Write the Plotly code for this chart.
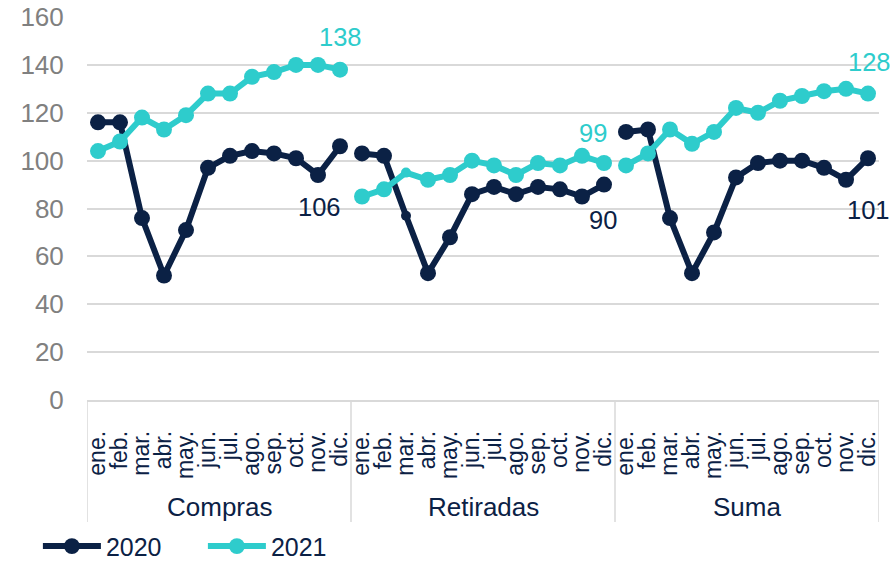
import plotly.graph_objects as go

months = ["ene.", "feb.", "mar.", "abr.", "may.", "jun.", "jul.", "ago.", "sep.", "oct.", "nov.", "dic."]
groups = ["Compras", "Retiradas", "Suma"]

compras_2020 = [116, 116, 76, 52, 71, 97, 102, 104, 103, 101, 94, 106]
retiradas_2020 = [103, 102, 77, 53, 68, 86, 89, 86, 89, 88, 85, 90]
suma_2020 = [112, 113, 76, 53, 70, 93, 99, 100, 100, 97, 92, 101]

compras_2021 = [104, 108, 118, 113, 119, 128, 128, 135, 137, 140, 140, 138]
retiradas_2021 = [85, 88, 95, 92, 94, 100, 98, 94, 99, 98, 102, 99]
suma_2021 = [98, 103, 113, 107, 112, 122, 120, 125, 127, 129, 130, 128]

series = {
    "2020": [compras_2020, retiradas_2020, suma_2020],
    "2021": [compras_2021, retiradas_2021, suma_2021],
}
colors = {"2020": "#0b2145", "2021": "#2ecccc"}
FONT = "Liberation Sans, Arial, sans-serif"
NAVY = "#0b2145"

fig = go.Figure()
n = len(months)
for name, vals in series.items():
    xs, ys, sizes = [], [], []
    for g, gv in enumerate(vals):
        for m, v in enumerate(gv):
            xs.append(g * n + m)
            ys.append(v)
            sizes.append(10 if (g == 1 and m == 2) else 16)
        xs.append(None)
        ys.append(None)
        sizes.append(16)
    fig.add_trace(go.Scatter(
        x=xs, y=ys, name=name, mode="lines+markers",
        line=dict(color=colors[name], width=6),
        marker=dict(color=colors[name], size=sizes, opacity=1, line=dict(width=0)),
        connectgaps=False,
    ))

# data labels for last month of each group
offsets = {
    ("2020", 0): (-21, -61), ("2020", 1): (-1, -35), ("2020", 2): (0, -52),
    ("2021", 0): (0, 33), ("2021", 1): (-11, 30), ("2021", 2): (1, 32),
}
for name, vals in series.items():
    for g, gv in enumerate(vals):
        dx, dy = offsets[(name, g)]
        fig.add_annotation(
            x=g * n + n - 1, y=gv[-1], text=f"{gv[-1]:.0f}", showarrow=False,
            xshift=dx, yshift=dy,
            font=dict(family=FONT, size=25.5, color=colors[name]),
        )

# group labels and dividers
plot_h = 383
for g, grp in enumerate(groups):
    fig.add_annotation(
        x=g * n + (n - 1) / 2, y=-(107 / plot_h), yref="paper", text=grp,
        showarrow=False, yanchor="middle",
        font=dict(family=FONT, size=26, color=NAVY),
    )
for b in range(len(groups) + 1):
    fig.add_shape(
        type="line", xref="x", yref="paper",
        x0=b * n - 0.5, x1=b * n - 0.5, y0=0, y1=-(122 / plot_h),
        line=dict(color="#d9d9d9", width=1.5),
    )

tickvals = list(range(n * len(groups)))
ticktext = months * len(groups)

fig.update_layout(
    width=896, height=562,
    margin=dict(l=87, r=17, t=17, b=162, autoexpand=False),
    paper_bgcolor="white", plot_bgcolor="white",
    font=dict(family=FONT, color=NAVY),
    showlegend=True,
    legend=dict(
        orientation="h", x=-0.062, xanchor="left", y=-0.382, yanchor="middle",
        font=dict(family=FONT, size=25, color=NAVY),
        itemwidth=58, entrywidth=92, entrywidthmode="pixels", traceorder="normal",
    ),
    xaxis=dict(
        range=[-0.5, n * len(groups) - 0.5], automargin=False,
        tickvals=tickvals, ticktext=ticktext, tickangle=-90,
        tickfont=dict(family=FONT, size=23, color=NAVY),
        showgrid=False, zeroline=False,
        showline=True, linecolor="#d9d9d9", linewidth=1.5,
        ticks="outside", ticklen=20, tickcolor="rgba(0,0,0,0)",
    ),
    yaxis=dict(
        range=[0, 160], dtick=20, automargin=False,
        tickfont=dict(family=FONT, size=26, color="#808080"),
        showgrid=True, gridcolor="#d9d9d9", gridwidth=1.5,
        zeroline=False, showline=False,
        ticks="outside", ticklen=17, tickcolor="rgba(0,0,0,0)",
    ),
)

fig.write_html(
    "out.html",
    config={"displayModeBar": False},
    post_script="document.body.style.margin='0';document.body.style.overflow='hidden';",
)
